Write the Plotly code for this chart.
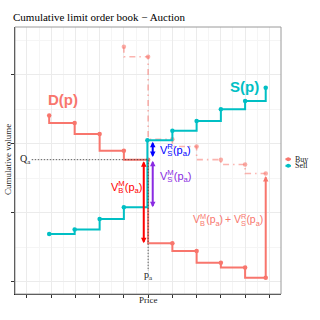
import plotly.graph_objects as go

# cumulative book, step curves (price, cumulative volume)
buy_price = [0.92, 1.97, 3, 4, 5, 6, 7, 8, 9, 9.85]
buy_volume = [24.1, 23.0, 21.4, 19.0, 17.7, 5.6, 4.5, 2.8, 2.1, 0.6]
sell_price = [0.92, 1.97, 3, 4, 4.97, 6, 7, 8, 9, 9.85]
sell_volume = [6.95, 7.6, 9.1, 10.8, 20.5, 21.9, 23.3, 25.0, 26.2, 28.1]

# buy curve with market orders added (dash-dot)
shift_price = [4, 5, 6, 7, 8, 9, 9.85]
shift_volume = [34.05, 32.6, 20.65, 19.6, 17.7, 17.0, 15.7]

# auction price / quantity
p_a = 5.0
q_a = 17.7

# arrows: (x, from, to)
arrow_vbm = (4.82, 17.7, 5.6)
arrow_vsr = (5.19, 20.5, 18.1)
arrow_vsm = (5.19, 17.75, 10.8)
arrow_sum = (9.85, 0.6, 15.35)

BUY = '#F8766D'
SELL = '#00BFC4'
SERIF = 'Liberation Serif'
SANS = 'Liberation Sans'

fig = go.Figure()

fig.add_trace(go.Scatter(x=shift_price, y=shift_volume, mode='lines+markers',
                         line=dict(color='rgba(248,118,109,0.55)', width=1.6, shape='vh',
                                   dash='6px,4px,1.5px,4px'),
                         marker=dict(size=4.5, color='rgba(248,118,109,0.6)')))
fig.add_trace(go.Scatter(x=buy_price, y=buy_volume, mode='lines+markers', name='Buy',
                         line=dict(color=BUY, width=2, shape='vh'),
                         marker=dict(size=4.5, color=BUY)))
fig.add_trace(go.Scatter(x=sell_price, y=sell_volume, mode='lines+markers', name='Sell',
                         line=dict(color=SELL, width=2, shape='hv'),
                         marker=dict(size=4.5, color=SELL)))

# dotted guides to Q_a and p_a
fig.add_trace(go.Scatter(x=[0.2, p_a], y=[q_a, q_a], mode='lines',
                         line=dict(color='#333333', width=0.8, dash='1.5px,1.5px')))
fig.add_trace(go.Scatter(x=[p_a, p_a], y=[q_a, 1.6], mode='lines',
                         line=dict(color='#333333', width=0.8, dash='1.5px,1.5px')))

ann = []


def arrow(a, color, both=True):
    x, y0, y1 = a
    ann.append(dict(x=x, y=y1, ax=x, ay=y0, xref='x', yref='y', axref='x', ayref='y',
                    text='', showarrow=True, arrowhead=2, arrowsize=0.55, arrowwidth=2,
                    arrowcolor=color, arrowside='end+start' if both else 'end',
                    startarrowhead=2, startarrowsize=0.55, standoff=0, startstandoff=0))


arrow(arrow_vbm, '#FF0000')
arrow(arrow_vsr, '#0000FF')
arrow(arrow_vsm, '#8A2BE2')
arrow(arrow_sum, BUY, both=False)

T = "<span style='color:rgba(0,0,0,0)'>{}</span>"


def stacked(x, y, pre, sup, sub, color, size=11):
    # sup and sub drawn on top of each other, like plotmath
    top = f"{pre}V<sup>{sup}</sup>(p<sub>a</sub>)"
    low = T.format(pre + 'V') + f"<sub>{sub}</sub><sup>" + T.format(sup) + "</sup>"
    for t in (top, low):
        ann.append(dict(x=x, y=y, xref='x', yref='y', text=t, showarrow=False,
                        xanchor='left', yanchor='middle',
                        font=dict(family=SANS, size=size, color=color)))


stacked(3.40, 13.75, '', 'M', 'B', '#FF0000')
stacked(5.39, 19.1, '', 'R', 'S', '#0000FF')
stacked(5.39, 15.4, '', 'M', 'S', '#8A2BE2')
stacked(6.75, 8.97, '', 'M', 'B', BUY, size=10.5)
stacked(8.10, 8.97, '+ ', 'R', 'S', BUY, size=10.5)

ann.append(dict(x=1.50, y=26.34, xref='x', yref='y', text='<b>D(p)</b>', showarrow=False,
                font=dict(family=SANS, size=15, color=BUY)))
ann.append(dict(x=8.96, y=28.36, xref='x', yref='y', text='<b>S(p)</b>', showarrow=False,
                font=dict(family=SANS, size=15, color=SELL)))
ann.append(dict(x=-0.04, y=q_a, xref='x', yref='y', text='Q<sub>a</sub>', showarrow=False,
                font=dict(family=SERIF, size=10, color='#222')))
ann.append(dict(x=p_a, y=0.87, xref='x', yref='y', text='p<sub>a</sub>', showarrow=False,
                font=dict(family=SERIF, size=10, color='#222')))

# axis titles
ann.append(dict(x=0.502, y=-0.0225, xref='paper', yref='paper', text='Price', showarrow=False,
                yanchor='middle', font=dict(family=SERIF, size=9, color='#222')))
ann.append(dict(x=-0.026, y=0.502, xref='paper', yref='paper', text='Cumulative volume',
                showarrow=False, textangle=-90, xanchor='center',
                font=dict(family=SERIF, size=9, color='#222')))

# legend, drawn by hand to keep the small ggplot keys
shapes = [dict(type='rect', xref='paper', yref='paper', x0=0, x1=1, y0=0, y1=1,
               line=dict(color='#9A9A9A', width=1), layer='above')]
for lab, col, yp in [('Buy', BUY, 0.5049), ('Sell', SELL, 0.4801)]:
    shapes.append(dict(type='line', xref='paper', yref='paper', x0=1.0168, x1=1.0373,
                       y0=yp, y1=yp, line=dict(color=col, width=2)))
    shapes.append(dict(type='circle', xref='paper', yref='paper',
                       x0=1.0272 - 0.0075, x1=1.0272 + 0.0075,
                       y0=yp - 0.0075, y1=yp + 0.0075,
                       fillcolor=col, line=dict(color=col, width=0)))
    ann.append(dict(x=1.0459, y=yp, xref='paper', yref='paper', text=lab, showarrow=False,
                    xanchor='left', yanchor='middle',
                    font=dict(family=SERIF, size=8, color='#222')))

fig.update_layout(
    width=320, height=320,
    margin=dict(l=13, r=39, t=27, b=26),
    plot_bgcolor='white', paper_bgcolor='white',
    showlegend=False,
    title=dict(text='Cumulative limit order book − Auction', x=13 / 320, xanchor='left',
               y=1 - 17.5 / 320, yanchor='middle',
               font=dict(family=SERIF, size=11, color='black')),
    xaxis=dict(range=[-0.49, 10.48], tick0=0, dtick=1, showticklabels=False,
               ticks='outside', ticklen=3, tickcolor='#333', tickwidth=1,
               showgrid=True, gridcolor='#EBEBEB', gridwidth=1,
               minor=dict(dtick=0.5, showgrid=True, gridcolor='#F5F5F5', gridwidth=0.6),
               zeroline=False, showline=True, linecolor='#222', linewidth=1),
    yaxis=dict(range=[-1.74, 36.9], tick0=0, dtick=10, showticklabels=False,
               ticks='outside', ticklen=3, tickcolor='#333', tickwidth=1,
               showgrid=True, gridcolor='#EBEBEB', gridwidth=1,
               minor=dict(dtick=5, showgrid=True, gridcolor='#F5F5F5', gridwidth=0.6),
               zeroline=False, showline=True, linecolor='#222', linewidth=1),
    annotations=ann,
    shapes=shapes,
)

fig.write_html("out.html", config={'displayModeBar': False},
               post_script="document.body.style.margin='0';")
